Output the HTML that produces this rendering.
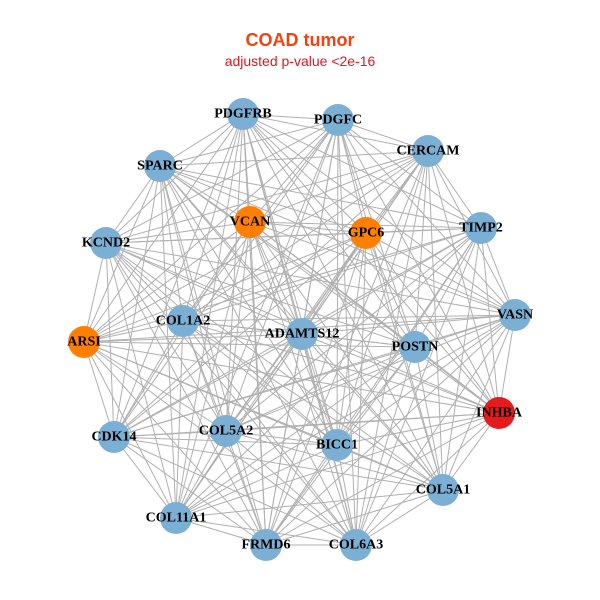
<!DOCTYPE html>
<html><head><meta charset="utf-8"><style>
html,body{margin:0;padding:0;background:#fff;}
svg{display:block;}
text.l{font-family:"Liberation Serif",serif;font-weight:bold;font-size:14px;fill:#000;text-anchor:middle;dominant-baseline:central;}
</style></head><body>
<svg id="g" width="600" height="600" viewBox="0 0 600 600">
<rect width="600" height="600" fill="#fff"/>
<text x="300" y="46" text-anchor="middle" font-family="Liberation Sans,sans-serif" font-weight="bold" font-size="18" fill="#F5400F">COAD tumor</text>
<text x="300" y="66" text-anchor="middle" font-family="Liberation Sans,sans-serif" font-size="14" fill="#E8131A">adjusted p-value &lt;2e-16</text>
<g id="edges" stroke="#b0b0b0" stroke-width="1"></g>
<g id="nodes">
<circle cx="243" cy="114" r="16" fill="#7BAFD4"/>
<circle cx="338" cy="120" r="16" fill="#7BAFD4"/>
<circle cx="428" cy="151" r="16" fill="#7BAFD4"/>
<circle cx="160" cy="166" r="16" fill="#7BAFD4"/>
<circle cx="250" cy="222" r="16" fill="#FF7F00"/>
<circle cx="366" cy="233" r="16" fill="#FF7F00"/>
<circle cx="481" cy="228" r="16" fill="#7BAFD4"/>
<circle cx="106" cy="243" r="16" fill="#7BAFD4"/>
<circle cx="515" cy="315" r="16" fill="#7BAFD4"/>
<circle cx="183" cy="321" r="16" fill="#7BAFD4"/>
<circle cx="302" cy="334" r="16" fill="#7BAFD4"/>
<circle cx="415" cy="347" r="16" fill="#7BAFD4"/>
<circle cx="84" cy="342" r="16" fill="#FF7F00"/>
<circle cx="499" cy="413" r="16" fill="#E41A1C"/>
<circle cx="114" cy="437" r="16" fill="#7BAFD4"/>
<circle cx="226" cy="431" r="16" fill="#7BAFD4"/>
<circle cx="337" cy="445" r="16" fill="#7BAFD4"/>
<circle cx="443" cy="490" r="16" fill="#7BAFD4"/>
<circle cx="176" cy="518" r="16" fill="#7BAFD4"/>
<circle cx="266" cy="545" r="16" fill="#7BAFD4"/>
<circle cx="356" cy="545" r="16" fill="#7BAFD4"/>
</g>
<g>
<text class="l" x="243" y="114">PDGFRB</text>
<text class="l" x="338" y="120">PDGFC</text>
<text class="l" x="428" y="151">CERCAM</text>
<text class="l" x="160" y="166">SPARC</text>
<text class="l" x="250" y="222">VCAN</text>
<text class="l" x="366" y="233">GPC6</text>
<text class="l" x="481" y="228">TIMP2</text>
<text class="l" x="106" y="243">KCND2</text>
<text class="l" x="515" y="315">VASN</text>
<text class="l" x="183" y="321">COL1A2</text>
<text class="l" x="302" y="334">ADAMTS12</text>
<text class="l" x="415" y="347">POSTN</text>
<text class="l" x="84" y="342">ARSI</text>
<text class="l" x="499" y="413">INHBA</text>
<text class="l" x="114" y="437">CDK14</text>
<text class="l" x="226" y="431">COL5A2</text>
<text class="l" x="337" y="445">BICC1</text>
<text class="l" x="443" y="490">COL5A1</text>
<text class="l" x="176" y="518">COL11A1</text>
<text class="l" x="266" y="545">FRMD6</text>
<text class="l" x="356" y="545">COL6A3</text>
</g>
</svg>
<script>
var c=document.querySelectorAll('#nodes circle'),g=document.getElementById('edges'),ns='http://www.w3.org/2000/svg';
for(var i=0;i<c.length;i++)for(var j=i+1;j<c.length;j++){var l=document.createElementNS(ns,'line');
l.setAttribute('x1',c[i].getAttribute('cx'));l.setAttribute('y1',c[i].getAttribute('cy'));
l.setAttribute('x2',c[j].getAttribute('cx'));l.setAttribute('y2',c[j].getAttribute('cy'));g.appendChild(l);}
</script>
</body></html>
